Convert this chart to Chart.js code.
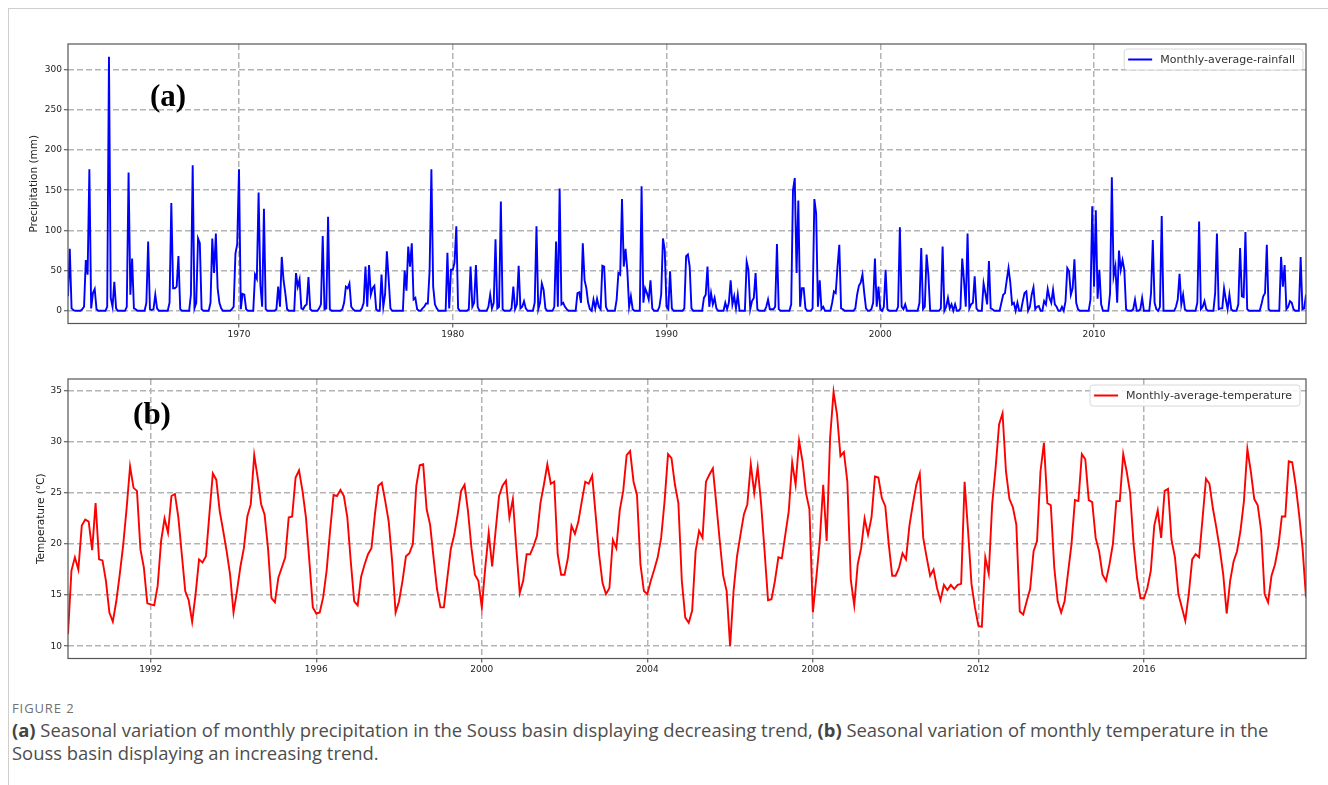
<!DOCTYPE html>
<html>
<head>
<meta charset="utf-8">
<script src="https://cdn.jsdelivr.net/npm/chart.js@4.4.1/dist/chart.umd.min.js"></script>
<style>
  body { margin: 0; background: #fff; width: 1328px; height: 785px; position: relative; overflow: hidden; }
  .frame { position: absolute; left: 8px; top: 8px; right: 0; bottom: 0; border-left: 1px solid #cfcfcf; border-top: 1px solid #cfcfcf; }
  canvas { position: absolute; left: 0; }
  #rainChart { top: 30px; }
  #tempChart { top: 365px; }
  .tag { position: absolute; transform: translate(-50%, -50%); font-family: "Liberation Serif", "Times New Roman", serif; font-weight: bold; font-size: 31px; color: #000; }
  .fig { position: absolute; left: 12px; top: 699px; font-family: "Open Sans", "Noto Sans", sans-serif; font-size: 13px; color: #707070; letter-spacing: 0.9px; }
  .caption { position: absolute; left: 12px; top: 718px; font-family: "Open Sans", "Noto Sans", sans-serif; font-size: 18.4px; line-height: 23px; color: #4d4d4d; white-space: nowrap; }
  .caption b { color: #444; }
</style>
</head>
<body>
<div class="frame"></div>
<canvas id="rainChart" width="1328" height="320"></canvas>
<canvas id="tempChart" width="1328" height="320"></canvas>
<div class="tag" style="left:168px; top:96px;">(a)</div>
<div class="tag" style="left:152px; top:414px;">(b)</div>
<div class="fig">FIGURE 2</div>
<div class="caption"><b>(a)</b> Seasonal variation of monthly precipitation in the Souss basin displaying decreasing trend, <b>(b)</b> Seasonal variation of monthly temperature in the<br>Souss basin displaying an increasing trend.</div>

<script>
// monthly rainfall (mm), Jan 1962 - Dec 2019, one row per year
const rainStartYear = 1962;
const rainfall = [
  18, 77, 3, 1, 0, 0, 0, 0, 2, 5, 63, 45,        // 1962
  176, 3, 22, 27, 2, 0, 0, 0, 0, 0, 5, 316,      // 1963
  16, 5, 36, 3, 0, 0, 0, 0, 0, 5, 172, 20,       // 1964
  65, 3, 2, 0, 0, 0, 0, 0, 10, 86, 2, 1,         // 1965
  2, 20, 3, 0, 0, 0, 0, 0, 0, 10, 134, 28,       // 1966
  28, 30, 68, 2, 0, 0, 0, 0, 0, 20, 181, 3,      // 1967
  10, 90, 84, 2, 0, 0, 0, 0, 10, 90, 47, 96,     // 1968
  28, 10, 3, 0, 0, 0, 0, 0, 2, 5, 71, 83,        // 1969
  176, 2, 21, 20, 2, 0, 0, 0, 0, 45, 40, 147,    // 1970
  32, 5, 127, 2, 0, 0, 0, 0, 0, 2, 30, 5,        // 1971
  67, 38, 22, 2, 0, 0, 0, 0, 47, 30, 39, 3,      // 1972
  2, 6, 8, 42, 2, 0, 0, 0, 0, 3, 8, 93,          // 1973
  2, 3, 117, 2, 0, 0, 0, 0, 0, 0, 2, 10,         // 1974
  30, 28, 34, 5, 2, 0, 0, 0, 0, 3, 10, 55,       // 1975
  5, 57, 20, 28, 31, 2, 0, 0, 45, 5, 20, 74,     // 1976
  40, 3, 0, 0, 0, 0, 0, 0, 0, 50, 25, 80,        // 1977
  55, 84, 14, 16, 2, 0, 0, 3, 5, 9, 9, 50,       // 1978
  176, 30, 8, 3, 0, 0, 0, 0, 0, 72, 3, 51,       // 1979
  51, 60, 105, 3, 0, 0, 0, 0, 0, 2, 55, 5,       // 1980
  10, 57, 5, 0, 0, 0, 0, 0, 5, 20, 3, 10,        // 1981
  89, 3, 5, 136, 2, 0, 0, 0, 0, 3, 30, 2,        // 1982
  8, 56, 3, 5, 12, 3, 0, 0, 0, 0, 10, 105,       // 1983
  2, 10, 34, 26, 3, 0, 0, 0, 0, 5, 86, 5,        // 1984
  152, 8, 10, 5, 2, 0, 0, 0, 0, 0, 22, 23,       // 1985
  10, 84, 38, 28, 10, 2, 0, 14, 3, 15, 5, 2,     // 1986
  56, 55, 5, 0, 0, 0, 0, 0, 14, 47, 45, 139,     // 1987
  55, 77, 50, 5, 18, 2, 0, 0, 0, 0, 155, 10,     // 1988
  28, 22, 14, 38, 3, 0, 0, 0, 5, 20, 90, 76,     // 1989
  5, 2, 49, 3, 0, 0, 0, 0, 0, 0, 3, 68,          // 1990
  70, 55, 3, 0, 0, 0, 0, 0, 0, 16, 20, 55,       // 1991
  5, 22, 8, 16, 3, 0, 0, 0, 0, 10, 2, 10,        // 1992
  38, 8, 18, 3, 20, 0, 0, 0, 0, 61, 51, 2,       // 1993
  12, 16, 47, 2, 0, 0, 0, 0, 5, 14, 2, 2,        // 1994
  2, 5, 83, 2, 0, 0, 0, 0, 0, 0, 8, 150,         // 1995
  165, 47, 137, 5, 28, 28, 3, 0, 0, 0, 3, 139,   // 1996
  121, 5, 38, 2, 5, 0, 0, 0, 0, 10, 24, 22,      // 1997
  55, 82, 3, 2, 0, 0, 0, 0, 0, 0, 3, 20,         // 1998
  31, 35, 45, 22, 3, 0, 0, 2, 10, 65, 5, 30,     // 1999
  2, 0, 5, 51, 2, 0, 0, 0, 0, 0, 5, 104,         // 2000
  5, 2, 8, 0, 0, 0, 0, 0, 0, 0, 10, 78,          // 2001
  2, 5, 70, 45, 0, 0, 0, 0, 0, 0, 3, 80,         // 2002
  0, 5, 16, 3, 8, 0, 8, 0, 0, 3, 65, 38,         // 2003
  5, 96, 3, 8, 10, 43, 3, 0, 0, 0, 34, 22,       // 2004
  8, 62, 3, 2, 0, 0, 0, 0, 10, 20, 22, 38,       // 2005
  53, 35, 8, 10, 0, 10, 0, 0, 12, 22, 24, 0,     // 2006
  5, 20, 29, 2, 5, 6, 0, 0, 12, 8, 27, 16,       // 2007
  10, 26, 8, 5, 0, 0, 5, 0, 12, 53, 49, 20,      // 2008
  28, 64, 10, 2, 0, 0, 0, 0, 0, 0, 14, 130,      // 2009
  30, 125, 15, 51, 8, 0, 0, 0, 0, 22, 166, 43,   // 2010
  55, 10, 75, 51, 63, 51, 2, 0, 0, 0, 2, 14,     // 2011
  0, 0, 2, 16, 0, 0, 0, 0, 22, 88, 10, 2,        // 2012
  0, 5, 118, 0, 0, 0, 0, 0, 0, 0, 5, 14,         // 2013
  46, 8, 20, 2, 0, 0, 0, 0, 0, 0, 10, 111,       // 2014
  2, 5, 12, 2, 0, 0, 0, 0, 22, 96, 2, 3,         // 2015
  3, 28, 14, 2, 20, 2, 0, 0, 0, 8, 78, 18,       // 2016
  17, 98, 2, 0, 0, 0, 0, 0, 0, 0, 8, 18,         // 2017
  22, 82, 2, 0, 0, 0, 0, 0, 0, 67, 30, 57,       // 2018
  2, 5, 12, 10, 2, 0, 0, 0, 67, 2, 3, 20         // 2019
];

// monthly temperature (°C), Jan 1990 - Dec 2019
const tempStartYear = 1990;
const temperature = [
  11.2, 17.4, 18.7, 17.5, 21.8, 22.4, 22.2, 19.4, 24.0, 18.5, 18.4, 16.4,  // 1990
  13.3, 12.4, 14.4, 17.0, 19.9, 23.5, 27.6, 25.5, 25.2, 19.5, 17.7, 14.2,  // 1991
  14.1, 14.0, 15.9, 20.3, 22.5, 21.1, 24.7, 24.9, 22.6, 19.0, 15.4, 14.5,  // 1992
  12.4, 15.1, 18.5, 18.2, 18.8, 22.9, 26.9, 26.3, 23.2, 21.3, 19.3, 17.0,  // 1993
  13.3, 15.4, 17.8, 19.6, 22.7, 23.9, 28.7, 26.5, 23.9, 22.9, 19.6, 14.7,  // 1994
  14.3, 16.7, 17.7, 18.7, 22.6, 22.7, 26.5, 27.2, 25.2, 22.6, 18.3, 13.8,  // 1995
  13.2, 13.3, 14.8, 17.4, 21.3, 24.8, 24.7, 25.3, 24.7, 22.6, 18.3, 14.4,  // 1996
  14.0, 16.8, 18.0, 19.0, 19.6, 22.9, 25.7, 26.0, 24.2, 22.2, 18.3, 13.3,  // 1997
  14.4, 16.4, 18.8, 19.1, 20.0, 25.7, 27.7, 27.8, 23.4, 21.9, 18.7, 15.6,  // 1998
  13.8, 13.8, 16.7, 19.5, 20.9, 22.9, 25.2, 25.8, 23.2, 19.6, 17.0, 16.4,  // 1999
  13.8, 17.7, 21.1, 17.8, 21.3, 24.7, 25.7, 26.2, 22.6, 24.4, 19.6, 15.2,  // 2000
  16.4, 19.0, 19.0, 19.8, 20.8, 24.0, 25.8, 27.8, 25.9, 26.1, 19.0, 17.0,  // 2001
  17.0, 18.7, 21.8, 21.0, 22.2, 24.2, 26.1, 25.9, 26.7, 22.9, 19.0, 16.2,  // 2002
  15.1, 15.7, 20.4, 19.6, 23.3, 25.2, 28.7, 29.1, 26.1, 24.8, 18.0, 15.4,  // 2003
  15.1, 16.4, 17.5, 18.7, 20.6, 24.2, 28.8, 28.4, 25.8, 24.0, 16.4, 12.8,  // 2004
  12.3, 13.5, 19.3, 21.3, 20.6, 26.1, 26.8, 27.4, 23.9, 20.3, 16.9, 15.4,  // 2005
  10.0, 15.4, 18.8, 20.9, 22.9, 23.9, 27.8, 25.0, 27.5, 23.9, 19.3, 14.5,  // 2006
  14.6, 16.4, 18.7, 18.6, 20.9, 23.2, 28.0, 25.8, 30.1, 28.1, 25.0, 23.4,  // 2007
  13.3, 16.7, 20.3, 25.8, 20.3, 30.4, 34.9, 32.7, 28.6, 29.0, 26.1, 16.5,  // 2008
  14.0, 18.0, 19.6, 22.5, 20.9, 22.6, 26.6, 26.5, 24.5, 23.7, 20.0, 16.9,  // 2009
  16.9, 17.7, 19.1, 18.5, 21.8, 23.9, 25.8, 26.9, 20.6, 18.7, 16.9, 17.5,  // 2010
  15.7, 14.5, 16.0, 15.5, 16.0, 15.6, 16.0, 16.1, 26.1, 21.3, 16.1, 13.8,  // 2011
  12.0, 11.9, 18.7, 17.1, 23.9, 27.5, 31.7, 32.8, 27.1, 24.4, 23.6, 21.9,  // 2012
  13.4, 13.1, 14.4, 15.6, 19.3, 20.3, 27.1, 29.9, 24.0, 23.8, 17.7, 14.4,  // 2013
  13.3, 14.4, 17.2, 20.0, 24.3, 24.2, 28.8, 28.3, 24.3, 24.1, 20.6, 19.3,  // 2014
  17.0, 16.4, 18.0, 20.0, 24.2, 24.2, 28.8, 27.1, 25.0, 20.0, 16.7, 14.7,  // 2015
  14.7, 15.7, 17.4, 21.8, 23.3, 20.6, 25.2, 25.4, 20.4, 18.7, 15.1, 13.8,  // 2016
  12.5, 15.1, 18.5, 19.0, 18.7, 22.5, 26.4, 25.9, 23.5, 21.6, 19.5, 17.0,  // 2017
  13.2, 16.4, 18.3, 19.3, 21.3, 24.2, 29.3, 27.1, 24.4, 23.8, 21.3, 15.1,  // 2018
  14.3, 16.9, 18.0, 19.8, 22.7, 22.7, 28.1, 28.0, 25.8, 22.9, 19.6, 14.8   // 2019
];

const rainTicksX = [1970, 1980, 1990, 2000, 2010];
const rainTicksY = [0, 50, 100, 150, 200, 250, 300];
const tempTicksX = [1992, 1996, 2000, 2004, 2008, 2012, 2016];
const tempTicksY = [10, 15, 20, 25, 30, 35];

// month index -> decimal year
function toPoints(startYear, values) {
  return values.map((v, i) => ({ x: startYear + i / 12, y: v }));
}

// dark box around the plot area, like matplotlib spines
const framePlugin = {
  id: 'frame',
  afterDraw(chart) {
    const a = chart.chartArea, ctx = chart.ctx;
    ctx.save();
    ctx.strokeStyle = '#555';
    ctx.lineWidth = 1.2;
    ctx.strokeRect(a.left, a.top, a.right - a.left, a.bottom - a.top);
    ctx.restore();
  }
};

// legend drawn inside the upper right corner of the plot
const cornerLegend = {
  id: 'cornerLegend',
  afterDraw(chart, args, opts) {
    const ds = chart.data.datasets[0];
    const a = chart.chartArea, ctx = chart.ctx;
    ctx.save();
    ctx.font = '11px "DejaVu Sans"';
    const tw = ctx.measureText(ds.label).width;
    const w = 4 + 24 + 8 + tw + 8, h = 21;
    const x = a.right - opts.right - w, y = a.top + opts.top;
    ctx.fillStyle = 'rgba(255,255,255,0.85)';
    ctx.strokeStyle = '#d8d8d8';
    ctx.lineWidth = 1;
    ctx.beginPath();
    ctx.roundRect(x, y, w, h, 3);
    ctx.fill();
    ctx.stroke();
    ctx.strokeStyle = ds.borderColor;
    ctx.lineWidth = 2;
    ctx.beginPath();
    ctx.moveTo(x + 4, y + h / 2);
    ctx.lineTo(x + 28, y + h / 2);
    ctx.stroke();
    ctx.fillStyle = '#333';
    ctx.textBaseline = 'middle';
    ctx.fillText(ds.label, x + 36, y + h / 2 + 0.5);
    ctx.restore();
  }
};

function makeChart(id, cfg) {
  const gridStyle = { color: '#b3b3b3', lineWidth: 1.5, drawTicks: true, tickLength: 4, tickColor: '#444', tickWidth: 1 };
  return new Chart(document.getElementById(id), {
    type: 'line',
    data: {
      datasets: [{
        label: cfg.label,
        data: cfg.points,
        borderColor: cfg.color,
        borderWidth: 1.9,
        pointRadius: 0,
        tension: 0,
        fill: false
      }]
    },
    options: {
      responsive: false,
      animation: false,
      events: [],
      layout: { padding: { top: 14, right: 22, bottom: 0, left: 0 } },
      plugins: {
        legend: { display: false },
        tooltip: { enabled: false },
        cornerLegend: cfg.legendPos
      },
      scales: {
        x: {
          type: 'linear',
          min: cfg.xMin,
          max: cfg.xMax,
          grid: gridStyle,
          border: { display: false, dash: [6, 3] },
          ticks: {
            font: { family: 'DejaVu Sans', size: 9 },
            color: '#222',
            padding: 2,
            maxRotation: 0,
            callback: v => String(v)
          },
          afterBuildTicks: s => { s.ticks = cfg.xTicks.map(v => ({ value: v })); },
          afterFit: s => { s.height = 26.5; }
        },
        y: {
          min: cfg.yMin,
          max: cfg.yMax,
          grid: gridStyle,
          border: { display: false, dash: [6, 3] },
          ticks: {
            font: { family: 'DejaVu Sans', size: 9 },
            color: '#222',
            padding: 2
          },
          title: {
            display: true,
            text: cfg.yTitle,
            font: { family: 'DejaVu Sans', size: 10.5 },
            color: '#222',
            padding: { top: cfg.titlePad, bottom: 0 }
          },
          afterBuildTicks: s => { s.ticks = cfg.yTicks.map(v => ({ value: v })); },
          afterFit: s => { s.width = 68; }
        }
      }
    },
    plugins: [framePlugin, cornerLegend]
  });
}

makeChart('rainChart', {
  label: 'Monthly-average-rainfall',
  points: toPoints(rainStartYear, rainfall),
  color: '#0000ff',
  xMin: 1962, xMax: 2019 + 11 / 12,
  yMin: -15.8, yMax: 331.8,
  xTicks: rainTicksX, yTicks: rainTicksY,
  yTitle: 'Precipitation (mm)',
  titlePad: 28,
  legendPos: { right: 3, top: 5 }
});

makeChart('tempChart', {
  label: 'Monthly-average-temperature',
  points: toPoints(tempStartYear, temperature),
  color: '#ff0000',
  xMin: 1990, xMax: 2019 + 11 / 12,
  yMin: 8.8, yMax: 36.15,
  xTicks: tempTicksX, yTicks: tempTicksY,
  yTitle: 'Temperature (°C)',
  titlePad: 35,
  legendPos: { right: 6, top: 6 }
});
</script>
</body>
</html>
